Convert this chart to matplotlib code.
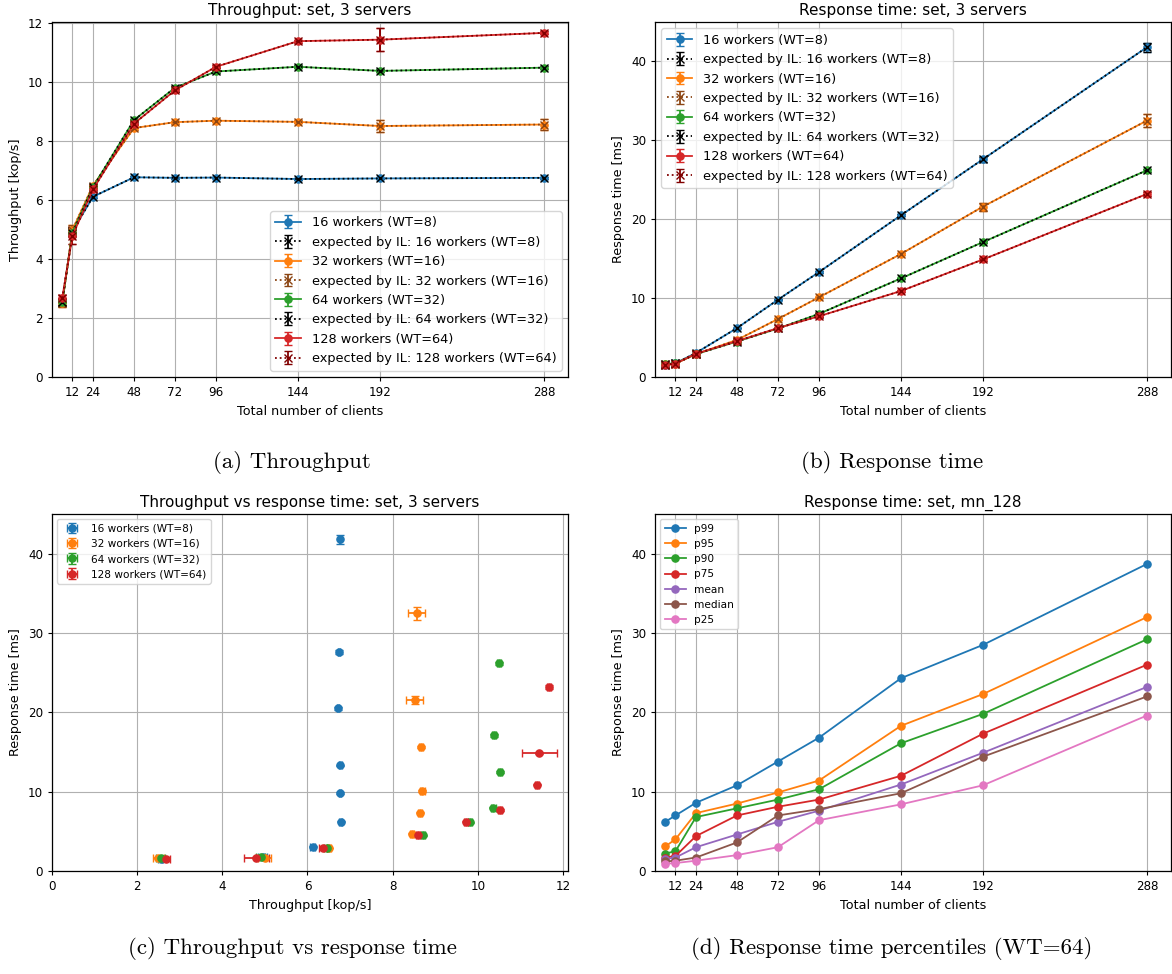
import matplotlib
matplotlib.use("Agg")
import matplotlib.pyplot as plt
from matplotlib.ticker import MultipleLocator

# ---------------- data ----------------
clients = [6, 12, 24, 48, 72, 96, 144, 192, 288]
xticks = [12, 24, 48, 72, 96, 144, 192, 288]
labels = ["16 workers (WT=8)", "32 workers (WT=16)", "64 workers (WT=32)", "128 workers (WT=64)"]

tp_16 = [2.55, 4.95, 6.12, 6.78, 6.76, 6.77, 6.72, 6.74, 6.76]
tp_32 = [2.50, 5.00, 6.50, 8.45, 8.65, 8.70, 8.66, 8.52, 8.57]
tp_64 = [2.55, 4.90, 6.45, 8.72, 9.82, 10.37, 10.53, 10.39, 10.50]
tp_128 = [2.68, 4.80, 6.37, 8.60, 9.73, 10.53, 11.40, 11.45, 11.68]

tp_err_16 = [0.05, 0.10, 0.05, 0.03, 0.03, 0.03, 0.03, 0.03, 0.03]
tp_err_32 = [0.12, 0.15, 0.05, 0.05, 0.05, 0.05, 0.05, 0.20, 0.20]
tp_err_64 = [0.10, 0.10, 0.05, 0.05, 0.05, 0.05, 0.05, 0.05, 0.05]
tp_err_128 = [0.10, 0.30, 0.10, 0.05, 0.05, 0.05, 0.05, 0.40, 0.05]

tp_il_16 = [2.55, 4.95, 6.12, 6.78, 6.76, 6.77, 6.72, 6.74, 6.76]
tp_il_32 = [2.50, 5.00, 6.50, 8.45, 8.65, 8.70, 8.66, 8.52, 8.57]
tp_il_64 = [2.55, 4.90, 6.45, 8.72, 9.82, 10.37, 10.53, 10.39, 10.50]
tp_il_128 = [2.68, 4.80, 6.37, 8.60, 9.73, 10.53, 11.40, 11.45, 11.68]

rt_16 = [1.55, 1.75, 3.05, 6.20, 9.80, 13.30, 20.50, 27.60, 41.80]
rt_32 = [1.60, 1.70, 2.90, 4.70, 7.35, 10.10, 15.60, 21.60, 32.50]
rt_64 = [1.60, 1.75, 2.90, 4.50, 6.15, 8.00, 12.50, 17.10, 26.20]
rt_128 = [1.50, 1.70, 2.95, 4.55, 6.20, 7.70, 10.90, 14.90, 23.20]

rt_err_16 = [0.05, 0.05, 0.05, 0.05, 0.10, 0.10, 0.15, 0.30, 0.60]
rt_err_32 = [0.05, 0.05, 0.05, 0.05, 0.10, 0.10, 0.15, 0.50, 0.80]
rt_err_64 = [0.05, 0.05, 0.05, 0.05, 0.05, 0.10, 0.10, 0.15, 0.20]
rt_err_128 = [0.05, 0.05, 0.05, 0.05, 0.05, 0.10, 0.10, 0.15, 0.20]

rt_il_16 = [1.55, 1.75, 3.05, 6.20, 9.80, 13.30, 20.50, 27.60, 41.80]
rt_il_32 = [1.60, 1.70, 2.90, 4.70, 7.35, 10.10, 15.60, 21.60, 32.50]
rt_il_64 = [1.60, 1.75, 2.90, 4.50, 6.15, 8.00, 12.50, 17.10, 26.20]
rt_il_128 = [1.50, 1.70, 2.95, 4.55, 6.20, 7.70, 10.90, 14.90, 23.20]

pct_names = ["p99", "p95", "p90", "p75", "mean", "median", "p25"]
p99 = [6.2, 7.0, 8.6, 10.8, 13.8, 16.8, 24.3, 28.5, 38.7]
p95 = [3.1, 4.0, 7.3, 8.5, 9.9, 11.4, 18.3, 22.3, 32.0]
p90 = [2.2, 2.5, 6.8, 7.9, 9.0, 10.3, 16.1, 19.8, 29.2]
p75 = [1.7, 1.9, 4.4, 7.0, 8.1, 9.0, 12.0, 17.3, 26.0]
mean = [1.5, 1.7, 3.0, 4.6, 6.2, 7.6, 10.9, 14.9, 23.2]
median = [1.2, 1.3, 1.7, 3.6, 7.0, 7.8, 9.8, 14.4, 22.0]
p25 = [0.9, 1.0, 1.3, 2.0, 3.0, 6.4, 8.4, 10.8, 19.6]

captions = ["(a) Throughput", "(b) Response time",
            "(c) Throughput vs response time", "(d) Response time percentiles (WT=64)"]

# ---------------- style ----------------
S = 0.86
plt.rcParams.update({
    "font.family": "DejaVu Sans",
    "font.size": 10 * S,
    "axes.titlesize": 11,
    "axes.labelsize": 9.2,
    "xtick.labelsize": 10 * S,
    "ytick.labelsize": 10 * S,
    "legend.fontsize": 9.3,
    "lines.linewidth": 1.5 * S,
    "lines.markersize": 6 * S,
    "axes.linewidth": 0.9,
    "xtick.major.size": 3.5 * S,
    "ytick.major.size": 3.5 * S,
    "axes.grid": True,
    "grid.color": "#b0b0b0",
    "grid.linewidth": 0.8,
    "axes.titlepad": 5,
})

colors = ["#1f77b4", "#ff7f0e", "#2ca02c", "#d62728"]
il_colors = ["#000000", "#8b4513", "#000000", "#800000"]

W, H = 1172, 974
fig = plt.figure(figsize=(W / 100, H / 100), dpi=100)

def box(l, r, t, b):
    return [l / W, (H - b) / H, (r - l) / W, (b - t) / H]

ax_a = fig.add_axes(box(52, 568, 22, 377))
ax_b = fig.add_axes(box(655, 1171, 22, 377))
ax_c = fig.add_axes(box(52, 568, 514, 871))
ax_d = fig.add_axes(box(655, 1171, 514, 871))

tps = [tp_16, tp_32, tp_64, tp_128]
tp_errs = [tp_err_16, tp_err_32, tp_err_64, tp_err_128]
tp_ils = [tp_il_16, tp_il_32, tp_il_64, tp_il_128]
rts = [rt_16, rt_32, rt_64, rt_128]
rt_errs = [rt_err_16, rt_err_32, rt_err_64, rt_err_128]
rt_ils = [rt_il_16, rt_il_32, rt_il_64, rt_il_128]

# (a) throughput
for i in range(4):
    ax_a.errorbar(clients, tps[i], yerr=tp_errs[i], fmt="-o", color=colors[i],
                  capsize=3, label=labels[i])
    ax_a.errorbar(clients, tp_ils[i], yerr=tp_errs[i], fmt=":x", color=il_colors[i],
                  capsize=3, label="expected by IL: " + labels[i])
ax_a.set_title("Throughput: set, 3 servers")
ax_a.set_xlabel("Total number of clients")
ax_a.set_ylabel("Throughput [kop/s]")
ax_a.set_xticks(xticks)
ax_a.set_xlim(0, 302.1)
ax_a.set_ylim(0, 12.05)
ax_a.legend(loc="lower right")

# (b) response time
for i in range(4):
    ax_b.errorbar(clients, rts[i], yerr=rt_errs[i], fmt="-o", color=colors[i],
                  capsize=3, label=labels[i])
    ax_b.errorbar(clients, rt_ils[i], yerr=rt_errs[i], fmt=":x", color=il_colors[i],
                  capsize=3, label="expected by IL: " + labels[i])
ax_b.set_title("Response time: set, 3 servers")
ax_b.set_xlabel("Total number of clients")
ax_b.set_ylabel("Response time [ms]")
ax_b.set_xticks(xticks)
ax_b.set_xlim(0, 302.1)
ax_b.set_ylim(0, 45)
ax_b.yaxis.set_major_locator(MultipleLocator(10))
ax_b.legend(loc="upper left")

# (c) throughput vs response time
for i in range(4):
    ax_c.errorbar(tps[i], rts[i], xerr=tp_errs[i], yerr=rt_errs[i], fmt="o",
                  color=colors[i], capsize=3, label=labels[i])
ax_c.set_title("Throughput vs response time: set, 3 servers")
ax_c.set_xlabel("Throughput [kop/s]")
ax_c.set_ylabel("Response time [ms]")
ax_c.set_xlim(0, 12.12)
ax_c.set_ylim(0, 45)
ax_c.yaxis.set_major_locator(MultipleLocator(10))
ax_c.legend(loc="upper left", fontsize=7.6)

# (d) percentiles
pcts = [p99, p95, p90, p75, mean, median, p25]
for name, vals in zip(pct_names, pcts):
    ax_d.plot(clients, vals, "-o", label=name)
ax_d.set_title("Response time: set, mn_128")
ax_d.set_xlabel("Total number of clients")
ax_d.set_ylabel("Response time [ms]")
ax_d.set_xticks(xticks)
ax_d.set_xlim(0, 302.1)
ax_d.set_ylim(0, 45)
ax_d.yaxis.set_major_locator(MultipleLocator(10))
ax_d.legend(loc="upper left", fontsize=7.6)

# captions
cap_kw = dict(ha="center", va="center", fontsize=16.5, family="cmr10")
fig.text(292 / W, 1 - 462 / H, captions[0], **cap_kw)
fig.text(892 / W, 1 - 462 / H, captions[1], **cap_kw)
fig.text(292 / W, 1 - 948 / H, captions[2], **cap_kw)
fig.text(892 / W, 1 - 948 / H, captions[3], **cap_kw)

fig.savefig("out.png", dpi=100)
